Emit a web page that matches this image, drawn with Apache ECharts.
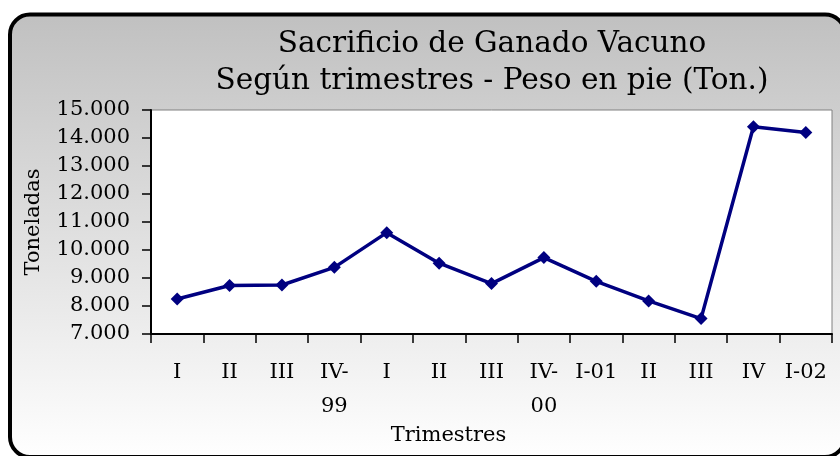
<!DOCTYPE html>
<html>
<head>
<meta charset="utf-8">
<script src="https://cdn.jsdelivr.net/npm/echarts@6/dist/echarts.min.js"></script>
<style>
  html, body { margin: 0; padding: 0; background: #fff; }
  #chart { width: 840px; height: 456px; }
</style>
</head>
<body>
<div id="chart"></div>
<script>
// trimestres 1999 - 2002
const categories = ['I', 'II', 'III', 'IV-\n99', 'I', 'II', 'III', 'IV-\n00', 'I-01', 'II', 'III', 'IV', 'I-02']
const peso = [8250, 8730, 8750, 9380, 10620, 9530, 8800, 9730, 8880, 8180, 7550, 14400, 14200]
const yMin = 7000
const yMax = 15000
const yStep = 1000

const serif = 'DejaVu Serif'

function miles(v) {
  return String(v).replace(/\B(?=(\d{3})+(?!\d))/g, '.')
}

const chart = echarts.init(document.getElementById('chart'))
chart.setOption({
  animation: false,
  backgroundColor: '#fff',
  graphic: [
    {
      type: 'rect',
      z: -10,
      shape: { x: 10, y: 14.5, width: 835, height: 442.5, r: 20 },
      style: {
        fill: new echarts.graphic.LinearGradient(0, 0, 0, 1, [
          { offset: 0, color: '#c0c0c0' },
          { offset: 1, color: '#ffffff' }
        ]),
        stroke: '#000',
        lineWidth: 4
      }
    }
  ],
  title: {
    text: 'Sacrificio de Ganado Vacuno\nSegún trimestres - Peso en pie (Ton.)',
    left: 487,
    textAlign: 'center',
    top: 21,
    textStyle: {
      fontFamily: serif,
      fontSize: 29.5,
      fontWeight: 'normal',
      color: '#000',
      lineHeight: 37
    }
  },
  grid: {
    left: 151,
    right: 8,
    top: 110,
    bottom: 122,
    show: true,
    backgroundColor: '#fff',
    borderColor: '#808080',
    borderWidth: 1
  },
  xAxis: {
    type: 'category',
    data: categories,
    name: 'Trimestres',
    nameLocation: 'middle',
    nameGap: 87,
    nameTextStyle: {
      fontFamily: serif,
      fontSize: 21,
      color: '#000',
      padding: [0, 86, 0, 0]
    },
    axisLine: { lineStyle: { color: '#000', width: 2 } },
    axisTick: { show: true, inside: false, length: 9, lineStyle: { color: '#000', width: 1.5 } },
    axisLabel: {
      interval: 0,
      margin: 22,
      fontFamily: serif,
      fontSize: 21,
      color: '#000',
      lineHeight: 34
    }
  },
  yAxis: {
    type: 'value',
    min: yMin,
    max: yMax,
    interval: yStep,
    name: 'Toneladas',
    nameLocation: 'middle',
    nameGap: 107,
    nameTextStyle: {
      fontFamily: serif,
      fontSize: 21,
      color: '#000'
    },
    splitLine: { show: false },
    axisLine: { show: true, lineStyle: { color: '#000', width: 2 } },
    axisTick: { show: true, inside: false, length: 9, lineStyle: { color: '#000', width: 1.5 } },
    axisLabel: {
      margin: 21,
      fontFamily: serif,
      fontSize: 21,
      color: '#000',
      formatter: miles
    }
  },
  series: [
    {
      type: 'line',
      data: peso,
      symbol: 'diamond',
      symbolSize: 13,
      lineStyle: { color: '#000080', width: 3.5 },
      itemStyle: { color: '#000080' }
    }
  ]
})
</script>
</body>
</html>
